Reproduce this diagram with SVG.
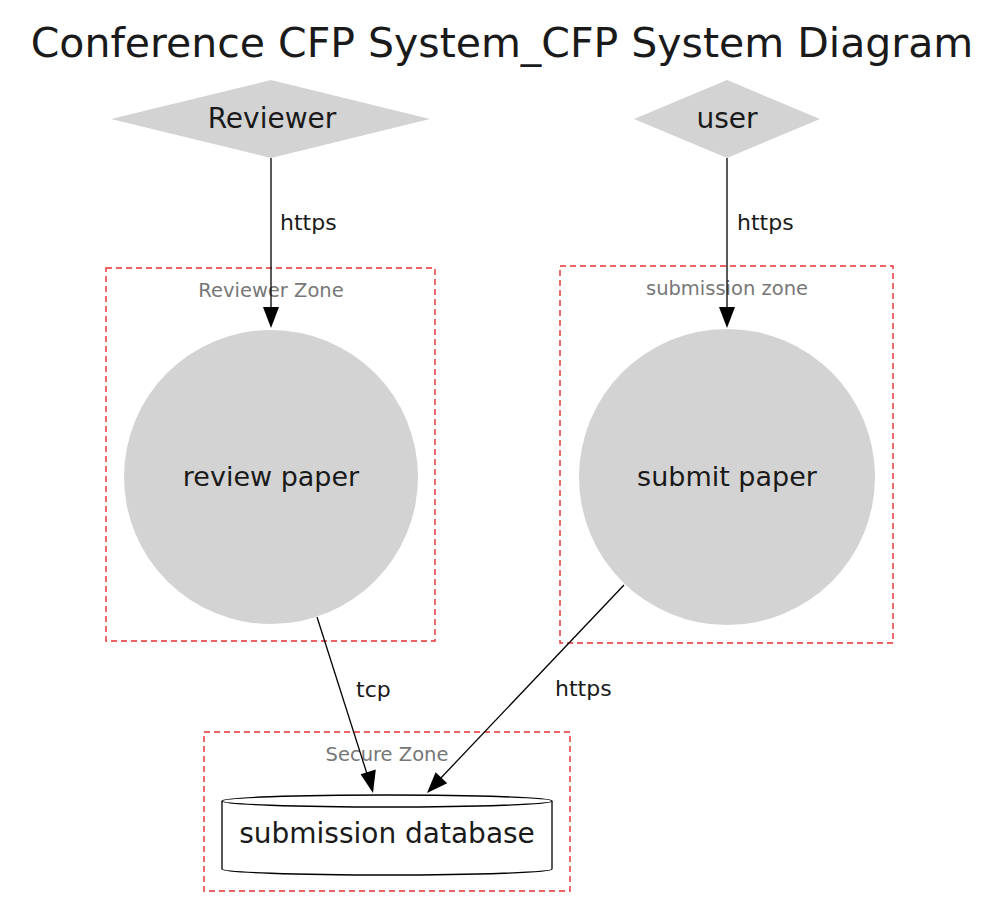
<svg xmlns="http://www.w3.org/2000/svg" width="1000" height="920" viewBox="0 0 1000 920">
<style>
text{font-family:"DejaVu Sans","Liberation Sans",sans-serif;fill:#1a1a1a}
.node{fill:#d3d3d3;stroke:none}
.zone{fill:none;stroke:#e53030;stroke-width:1.4;stroke-dasharray:6,4}
.zl{fill:#777;font-size:19.5px;text-anchor:middle}
.nl{font-size:28px;text-anchor:middle}
.el{font-size:22px}
.line{stroke:#000;stroke-width:1.3;fill:none}
</style>
<text x="502" y="57" style="font-size:41px;text-anchor:middle">Conference CFP System_CFP System Diagram</text>

<g id="zones">
<g id="reviewer-zone"><rect class="zone" x="106" y="268" width="329" height="373"/><text class="zl" x="271" y="297">Reviewer Zone</text></g>
<g id="submission-zone"><rect class="zone" x="560" y="266" width="333" height="377"/><text class="zl" x="727" y="295">submission zone</text></g>
<g id="secure-zone"><rect class="zone" x="204" y="732" width="366" height="159"/><text class="zl" x="387" y="761">Secure Zone</text></g>
</g>

<g id="reviewer"><polygon class="node" points="111,119 271,80 430,119 271,158"/><text class="nl" x="272" y="128">Reviewer</text></g>
<g id="user"><polygon class="node" points="634,119 727,80 820,119 727,158"/><text class="nl" x="727" y="128">user</text></g>
<g id="review-paper"><circle class="node" cx="271" cy="477" r="147"/><text class="nl" style="font-size:27px" x="271" y="486">review paper</text></g>
<g id="submit-paper"><circle class="node" cx="727" cy="477" r="148"/><text class="nl" style="font-size:27px" x="727" y="486">submit paper</text></g>
<g id="submission-database">
<path d="M222,801 L222,869 A165,6 0 0 0 552,869 L552,801" fill="#fff" stroke="#000" stroke-width="1.3"/>
<ellipse cx="387" cy="801" rx="165" ry="6" fill="#fff" stroke="#000" stroke-width="1.3"/>
<text class="nl" x="387" y="843">submission database</text>
</g>

<g id="connectors">
<path class="line" d="M271,158 L271,310"/>
<polygon points="271,328 263,307 279,307" fill="#000"/>
<text class="el" x="280" y="230">https</text>
<path class="line" d="M727,158 L727,310"/>
<polygon points="727,328 719,307 735,307" fill="#000"/>
<text class="el" x="737" y="230">https</text>
<path class="line" d="M317,617 L368,777"/>
<polygon points="373,793 360.6,774.3 375.8,769.5" fill="#000"/>
<text class="el" x="356" y="697">tcp</text>
<path class="line" d="M624,585 L438,781"/>
<polygon points="427,793 435.6,772.2 447.2,783.2" fill="#000"/>
<text class="el" x="555" y="696">https</text>
</g>
</svg>
